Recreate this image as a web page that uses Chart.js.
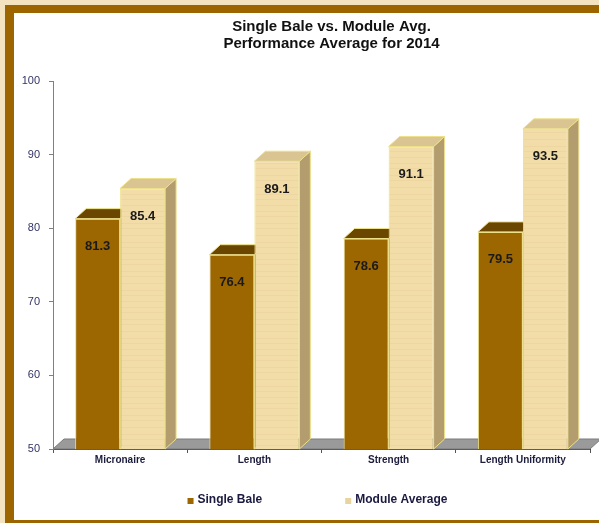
<!DOCTYPE html>
<html>
<head>
<meta charset="utf-8">
<script src="https://cdn.jsdelivr.net/npm/chart.js@4.4.0/dist/chart.umd.min.js"></script>
<style>
  html, body { margin: 0; padding: 0; background: #f3e3be; }
</style>
</head>
<body>
<canvas id="myChart" width="599" height="523"></canvas>
<script>
const categories = ["Micronaire", "Length", "Strength", "Length Uniformity"];
const singleBale = [81.3, 76.4, 78.6, 79.5];
const moduleAverage = [85.4, 89.1, 91.1, 93.5];
const titleLines = ["Single Bale vs. Module Avg.", "Performance Average for 2014"];
const yMin = 50;
const yMax = 100;
const yStep = 10;

// depth of the fake 3d look
const dx = 11;
const dy = 10;
const FONT = "'Liberation Sans', Arial, sans-serif";

// light paper texture for the module bars
const makeTexture = (base, streak) => {
  const c = document.createElement("canvas");
  c.width = 48;
  c.height = 48;
  const g = c.getContext("2d");
  g.fillStyle = base;
  g.fillRect(0, 0, 48, 48);
  g.strokeStyle = streak;
  [2, 7, 13, 19, 24, 31, 36, 43].forEach((y) => {
    g.beginPath();
    g.moveTo(0, y + 0.5);
    g.lineTo(48, y + 0.5);
    g.stroke();
  });
  return g.createPattern(c, "repeat");
};

const ctx = document.getElementById("myChart").getContext("2d");
const moduleFront = makeTexture("#f2dca8", "rgba(200,170,110,0.1)");

const framePlugin = {
  id: "frame",
  beforeDraw: (chart) => {
    const c = chart.ctx;
    c.save();
    c.fillStyle = "#f3e3be";
    c.fillRect(0, 0, chart.width, chart.height);
    c.fillStyle = "#9c6500";
    c.fillRect(5, 5, chart.width, chart.height);
    c.fillStyle = "#ffffff";
    c.fillRect(14, 13, chart.width, 507);
    c.restore();
  },
  afterLayout: (chart) => {
    // title sits a bit right of the plot centre in the original
    if (chart.titleBlock) {
      chart.titleBlock.left += 10;
      chart.titleBlock.right += 10;
    }
  },
};

const poly = (c, pts, fill, stroke) => {
  c.beginPath();
  c.moveTo(pts[0][0], pts[0][1]);
  for (let i = 1; i < pts.length; i++) c.lineTo(pts[i][0], pts[i][1]);
  c.closePath();
  c.fillStyle = fill;
  c.fill();
  if (stroke) {
    c.strokeStyle = stroke;
    c.lineWidth = 1;
    c.stroke();
  }
};

const depthPlugin = {
  id: "depth",
  beforeDatasetsDraw: (chart) => {
    const c = chart.ctx;
    const { left, right, bottom } = chart.chartArea;
    c.save();
    // floor
    poly(c, [[left, bottom], [left + dx, bottom - dy], [right + dx, bottom - dy], [right, bottom]], "#9a9a9a", "#7a7a7a");
    chart.data.datasets.forEach((ds, i) => {
      chart.getDatasetMeta(i).data.forEach((bar) => {
        const p = bar.getProps(["x", "y", "base", "width"], true);
        const b = Math.min(p.base, bottom);
        const l = p.x - p.width / 2;
        const r = p.x + p.width / 2;
        poly(c, [[r, p.y], [r + dx, p.y - dy], [r + dx, b - dy], [r, b]], ds.sideColor, ds.borderColor);
        poly(c, [[l, p.y], [l + dx, p.y - dy], [r + dx, p.y - dy], [r, p.y]], ds.topColor, ds.borderColor);
      });
    });
    c.restore();
  },
  afterDatasetsDraw: (chart) => {
    const c = chart.ctx;
    c.save();
    c.font = "bold 13px " + FONT;
    c.fillStyle = "#1a1a1a";
    c.textAlign = "center";
    c.textBaseline = "middle";
    chart.data.datasets.forEach((ds, i) => {
      chart.getDatasetMeta(i).data.forEach((bar, j) => {
        c.fillText(ds.data[j].toFixed(1), bar.x, bar.y + 28);
      });
    });
    c.restore();
  },
  afterDraw: (chart) => {
    // legend drawn by hand, wide gap between the two items
    const c = chart.ctx;
    const area = chart.chartArea;
    c.save();
    c.font = "bold 12px " + FONT;
    c.textBaseline = "middle";
    const gap = 83;
    const items = chart.data.datasets.map((ds) => ({ text: ds.label, color: ds.legendColor, w: 10 + c.measureText(ds.label).width }));
    const total = items.reduce((s, it) => s + it.w, 0) + gap * (items.length - 1);
    let x = (area.left + area.right) / 2 - 4 - total / 2;
    const y = area.bottom + 51;
    items.forEach((it) => {
      c.fillStyle = it.color;
      c.fillRect(x, y - 2, 6, 6);
      c.fillStyle = "#1a1a40";
      c.fillText(it.text, x + 10, y);
      x += it.w + gap;
    });
    c.restore();
  },
};

const myChart = new Chart(ctx, {
  type: "bar",
  data: {
    labels: categories,
    datasets: [
      {
        label: "Single Bale",
        data: singleBale,
        backgroundColor: "#9c6600",
        borderColor: "#ece08a",
        borderWidth: 1,
        topColor: "#6b4600",
        sideColor: "#5a3b00",
        legendColor: "#9c6600",
        categoryPercentage: 0.67,
        barPercentage: 1,
      },
      {
        label: "Module Average",
        data: moduleAverage,
        backgroundColor: moduleFront,
        borderColor: "#ece08a",
        borderWidth: 1,
        topColor: "#d9c492",
        sideColor: "#b39d6f",
        legendColor: "#e8d49e",
        categoryPercentage: 0.67,
        barPercentage: 1,
      },
    ],
  },
  options: {
    responsive: false,
    animation: false,
    layout: {
      padding: { left: 14, right: 9, top: 13, bottom: 56 },
    },
    plugins: {
      legend: { display: false },
      tooltip: { enabled: false },
      title: {
        display: true,
        text: titleLines,
        fullSize: false,
        color: "#111111",
        font: { family: FONT, size: 15, weight: "bold", lineHeight: 1.1 },
        padding: { top: 6, bottom: 29 },
      },
    },
    scales: {
      x: {
        grid: { drawOnChartArea: false, tickLength: 4, color: "#555555", offset: true },
        border: { color: "#404040" },
        ticks: { color: "#1c1c3c", font: { family: FONT, size: 10, weight: "bold" }, padding: 1 },
      },
      y: {
        min: yMin,
        max: yMax,
        afterFit: (scale) => {
          scale.width = 39;
        },
        grid: { drawOnChartArea: false, tickLength: 4, color: "#808080" },
        border: { color: "#808080" },
        ticks: { stepSize: yStep, color: "#333366", font: { family: FONT, size: 11 }, padding: 9 },
      },
    },
  },
  plugins: [framePlugin, depthPlugin],
});
</script>
</body>
</html>
